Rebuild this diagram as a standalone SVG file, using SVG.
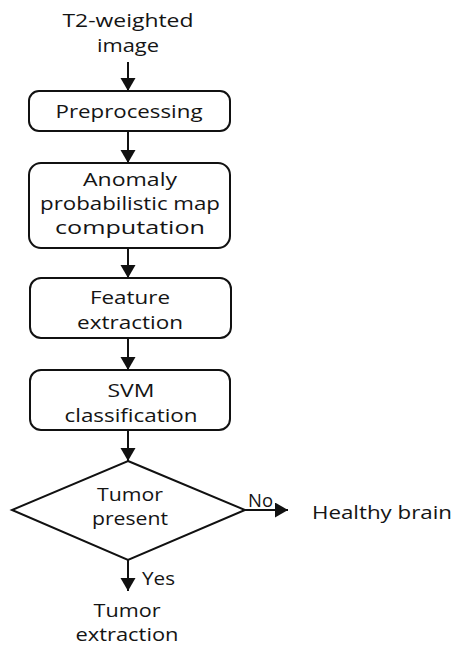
<svg xmlns="http://www.w3.org/2000/svg" width="453" height="648" viewBox="0 0 453 648">
<style>
text{font-family:"Open Sans","Liberation Sans",sans-serif;font-size:19px;fill:#141414;}
.c{text-anchor:middle;}
.box{fill:#fff;stroke:#111;stroke-width:2;}
.ln{stroke:#111;stroke-width:2;fill:none;}
</style>
<defs>
<marker id="ah" markerUnits="userSpaceOnUse" markerWidth="16" markerHeight="16" refX="13" refY="7.5" orient="auto">
<path d="M0,0 L13,7.5 L0,15 Z" fill="#111"/>
</marker>
</defs>
<rect width="453" height="648" fill="#fff"/>
<g id="connectors">
<line class="ln" x1="128" y1="62" x2="128" y2="91" marker-end="url(#ah)"/>
<line class="ln" x1="128" y1="131" x2="128" y2="163" marker-end="url(#ah)"/>
<line class="ln" x1="128" y1="248" x2="128" y2="278" marker-end="url(#ah)"/>
<line class="ln" x1="128" y1="338" x2="128" y2="370" marker-end="url(#ah)"/>
<line class="ln" x1="128" y1="430" x2="128" y2="461" marker-end="url(#ah)"/>
<line class="ln" x1="245" y1="510" x2="288" y2="510" marker-end="url(#ah)"/>
<line class="ln" x1="128" y1="560" x2="128" y2="591" marker-end="url(#ah)"/>
<text x="248" y="507" textLength="25" lengthAdjust="spacingAndGlyphs">No</text>
<text x="142" y="585" textLength="33" lengthAdjust="spacingAndGlyphs">Yes</text>
</g>
<g id="input">
<text class="c" x="128" y="27" textLength="131" lengthAdjust="spacingAndGlyphs">T2-weighted</text>
<text class="c" x="128" y="52" textLength="62" lengthAdjust="spacingAndGlyphs">image</text>
</g>
<g id="preprocessing">
<rect class="box" x="29" y="91" width="201" height="40" rx="10"/>
<text class="c" x="129" y="118" textLength="147" lengthAdjust="spacingAndGlyphs">Preprocessing</text>
</g>
<g id="anomaly">
<rect class="box" x="29" y="163" width="201" height="85" rx="12"/>
<text class="c" x="130" y="186" textLength="94" lengthAdjust="spacingAndGlyphs">Anomaly</text>
<text class="c" x="130" y="210" textLength="180" lengthAdjust="spacingAndGlyphs">probabilistic map</text>
<text class="c" x="130" y="234" textLength="150" lengthAdjust="spacingAndGlyphs">computation</text>
</g>
<g id="feature">
<rect class="box" x="30" y="278" width="201" height="60" rx="11"/>
<text class="c" x="130" y="304" textLength="80" lengthAdjust="spacingAndGlyphs">Feature</text>
<text class="c" x="130" y="329" textLength="106" lengthAdjust="spacingAndGlyphs">extraction</text>
</g>
<g id="svm">
<rect class="box" x="30" y="370" width="200" height="60" rx="11"/>
<text class="c" x="131" y="397" textLength="47" lengthAdjust="spacingAndGlyphs">SVM</text>
<text class="c" x="131" y="422" textLength="133" lengthAdjust="spacingAndGlyphs">classification</text>
</g>
<g id="decision">
<polygon class="box" points="128,461 245,510 128,560 12,510"/>
<text class="c" x="130" y="501" textLength="66" lengthAdjust="spacingAndGlyphs">Tumor</text>
<text class="c" x="130" y="525" textLength="76" lengthAdjust="spacingAndGlyphs">present</text>
</g>
<g id="healthy">
<text x="312" y="519" textLength="140" lengthAdjust="spacingAndGlyphs">Healthy brain</text>
</g>
<g id="tumor-extraction">
<text class="c" x="127" y="617" textLength="67" lengthAdjust="spacingAndGlyphs">Tumor</text>
<text class="c" x="127" y="641" textLength="103" lengthAdjust="spacingAndGlyphs">extraction</text>
</g>
</svg>
